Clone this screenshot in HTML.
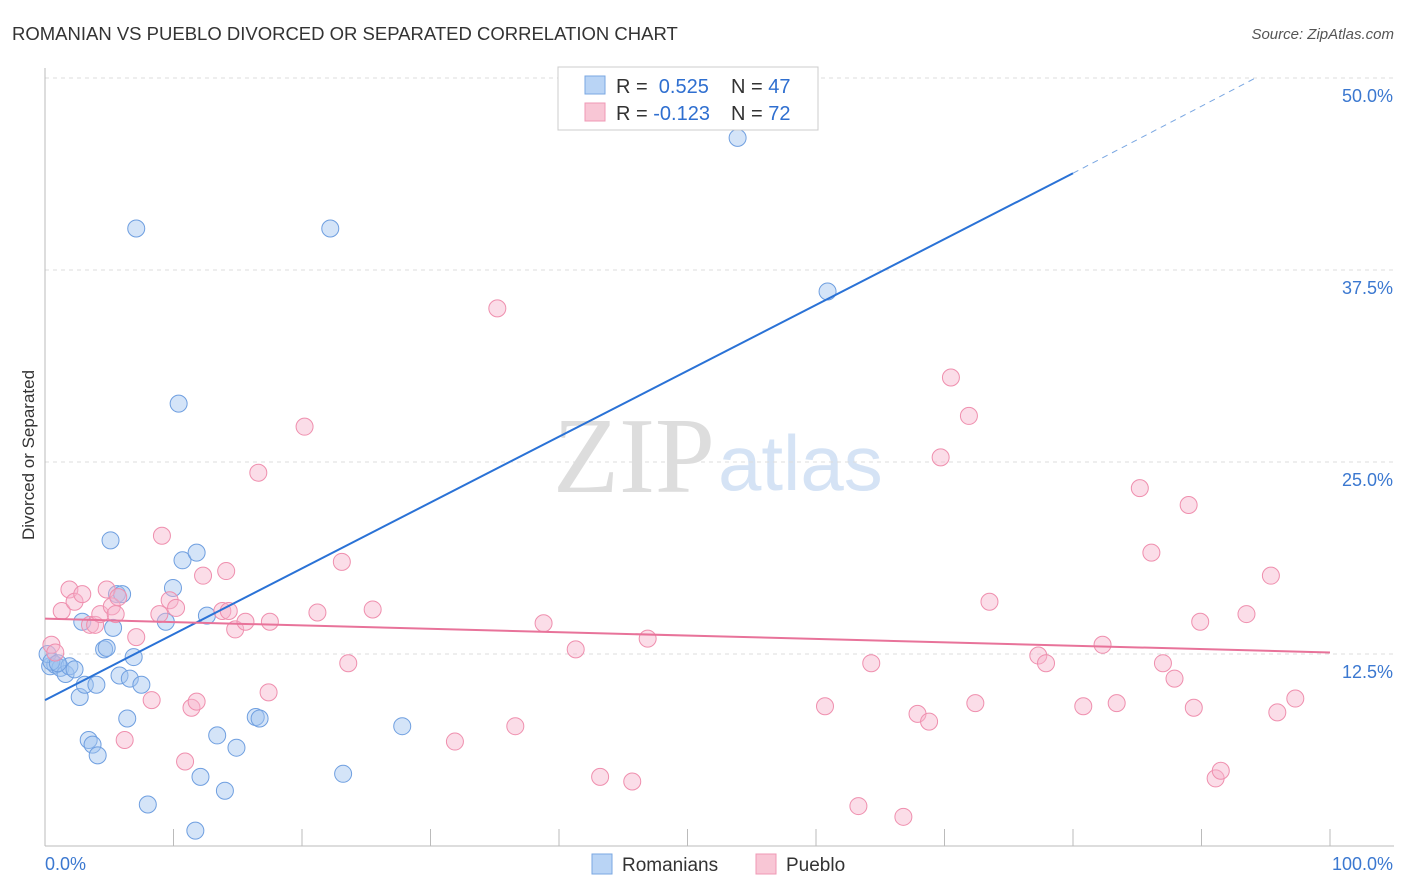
<!DOCTYPE html>
<html><head><meta charset="utf-8"><style>
body{margin:0;background:#fff;font-family:"Liberation Sans",sans-serif}
svg{display:block}
</style></head><body>
<svg id="chart" width="1406" height="892">
<text x="12" y="40" font-size="18.5" fill="#333">ROMANIAN VS PUEBLO DIVORCED OR SEPARATED CORRELATION CHART</text>
<text x="1394" y="39" font-size="15" fill="#555" font-style="italic" text-anchor="end">Source: ZipAtlas.com</text>
<text x="715" y="492" font-size="108" fill="#ddd" text-anchor="end" font-family="Liberation Serif,serif">ZIP</text>
<text x="718" y="490" font-size="78" fill="#d5e3f5">atlas</text>
<text x="34" y="455" font-size="17" fill="#333" text-anchor="middle" transform="rotate(-90 34 455)">Divorced or Separated</text>
<g id="grid"></g><g id="pts"></g><g id="lines"></g>
<g>
<rect x="558" y="67" width="260" height="63" fill="#fff" stroke="#ccc"/>
<rect x="585" y="76" width="20" height="18" fill="#b9d4f5" stroke="#7aa7e2"/>
<rect x="585" y="103" width="20" height="18" fill="#f8c6d5" stroke="#ef98b5"/>
<text x="616" y="93" font-size="20" fill="#333">R = <tspan fill="#2f6fd0">&#160;0.525</tspan><tspan x="731">N = </tspan><tspan fill="#2f6fd0">47</tspan></text>
<text x="616" y="120" font-size="20" fill="#333">R = <tspan fill="#2f6fd0">-0.123</tspan><tspan x="731">N = </tspan><tspan fill="#2f6fd0">72</tspan></text>
</g>
<g>
<rect x="592" y="854" width="20" height="20" fill="#b9d4f5" stroke="#7aa7e2"/>
<text x="622" y="871" font-size="19" fill="#333">Romanians</text>
<rect x="756" y="854" width="20" height="20" fill="#f8c6d5" stroke="#ef98b5"/>
<text x="786" y="871" font-size="19" fill="#333">Pueblo</text>
</g>
</svg>
<script>
const yTicks=[12.5,25,37.5,50];
const yTickLabels=["12.5%","25.0%","37.5%","50.0%"];
const xTickLabels=["0.0%","100.0%"];
const romX=[0.4,0.8,1.2,1.6,1.9,2.3,2.7,3.1,3.4,3.7,4.0,4.1,2.9,4.6,4.8,5.1,5.3,5.6,5.8,6.0,6.4,6.6,6.9,7.1,7.5,8.0,9.4,9.96,10.4,10.7,11.8,12.1,11.7,12.6,13.4,14.0,14.9,16.4,16.7,22.2,23.2,27.8,53.9,60.9,0.2,0.5,1.0];
const romY=[11.7,11.8,11.6,11.2,11.7,11.5,9.7,10.5,6.9,6.6,10.5,5.9,14.6,12.8,12.9,19.9,14.2,16.4,11.1,16.4,8.3,10.9,12.3,40.2,10.5,2.7,14.6,16.8,28.8,18.6,19.1,4.5,1.0,15.0,7.2,3.6,6.4,8.4,8.3,40.2,4.7,7.8,46.1,36.1,12.5,12.0,11.9];
const pueX=[0.5,0.8,1.3,1.9,2.3,2.9,3.5,3.9,4.3,4.8,5.2,5.5,5.7,6.2,7.1,8.3,8.9,9.1,9.7,10.2,10.9,11.4,11.8,12.3,13.8,14.1,14.3,14.8,15.6,16.6,17.4,17.5,20.2,21.2,23.1,23.6,25.5,31.9,35.2,36.6,38.8,41.3,43.2,45.7,46.9,60.7,63.3,64.3,66.8,67.9,68.8,69.7,70.5,71.9,72.4,73.5,77.3,77.9,80.8,82.3,83.4,85.2,86.1,87.0,87.9,89.0,89.4,89.9,91.1,91.5,93.5,95.4,95.9,97.3];
const pueY=[13.1,12.6,15.3,16.7,15.9,16.4,14.4,14.4,15.1,16.7,15.6,15.1,16.2,6.9,13.6,9.5,15.1,20.2,16.0,15.5,5.5,9.0,9.4,17.6,15.3,17.9,15.3,14.1,14.6,24.3,10.0,14.6,27.3,15.2,18.5,11.9,15.4,6.8,35.0,7.8,14.5,12.8,4.5,4.2,13.5,9.1,2.6,11.9,1.9,8.6,8.1,25.3,30.5,28.0,9.3,15.9,12.4,11.9,9.1,13.1,9.3,23.3,19.1,11.9,10.9,22.2,9.0,14.6,4.4,4.9,15.1,17.6,8.7,9.6];
const romLine=[9.5,43.8,50]; const romLineX=[0,80,94.2];
const pueLine=[14.8,12.6]; const pueLineX=[0,100];
const X0=45,X1=1330,Y0=846,Y50=78;
const sx=v=>X0+(X1-X0)*v/100, sy=v=>Y0-(Y0-Y50)*v/50;
const NS="http://www.w3.org/2000/svg";
function mk(t,a,p){const e=document.createElementNS(NS,t);for(const k in a)e.setAttribute(k,a[k]);p.appendChild(e);return e;}
const grid=document.getElementById('grid');
yTicks.forEach((v,i)=>{
 const l=mk('line',{x1:X0,x2:1394,y1:sy(v),y2:sy(v),stroke:'#ddd','stroke-dasharray':'4,4'},grid);
 
 
 const t=mk('text',{x:1393,y:sy(v)+24,'font-size':18,fill:'#3b78d0','text-anchor':'end'},grid);t.textContent=yTickLabels[i];
 
 
});
const ax=mk('line',{x1:X0,x2:X0,y1:68,y2:Y0,stroke:'#bbb'},grid);


const bx=mk('line',{x1:X0,x2:1394,y1:Y0,y2:Y0,stroke:'#bbb'},grid);


for(let i=1;i<=10;i++){const tk=mk('line',{x1:sx(i*10),x2:sx(i*10),y1:Y0,y2:Y0-17,stroke:'#bbb'},grid);
 
 }
[[0,'start',45],[100,'end',1393]].forEach((d,i)=>{const t=mk('text',{x:d[2],y:870,'font-size':18,fill:'#3b78d0','text-anchor':d[1]},grid);t.textContent=xTickLabels[i];
 
 });
const pts=document.getElementById('pts');
romX.forEach((x,i)=>{const c=mk('circle',{cx:sx(x),cy:sy(romY[i]),r:8.5,fill:'rgba(160,195,240,0.45)',stroke:'#6f9fe0','stroke-width':1},pts);
 
 });
pueX.forEach((x,i)=>{const c=mk('circle',{cx:sx(x),cy:sy(pueY[i]),r:8.5,fill:'rgba(247,180,203,0.45)',stroke:'#ef8fae','stroke-width':1},pts);
 
 });
const lines=document.getElementById('lines');
const l1=mk('line',{x1:sx(romLineX[0]),y1:sy(romLine[0]),x2:sx(romLineX[1]),y2:sy(romLine[1]),stroke:'#2a72d6','stroke-width':2},lines);


const l2=mk('line',{x1:sx(romLineX[1]),y1:sy(romLine[1]),x2:sx(romLineX[2]),y2:sy(romLine[2]),stroke:'#7aa7e2','stroke-width':1,'stroke-dasharray':'6,5'},lines);


const l3=mk('line',{x1:sx(pueLineX[0]),y1:sy(pueLine[0]),x2:sx(pueLineX[1]),y2:sy(pueLine[1]),stroke:'#e8739a','stroke-width':2},lines);


</script>
</body></html>
